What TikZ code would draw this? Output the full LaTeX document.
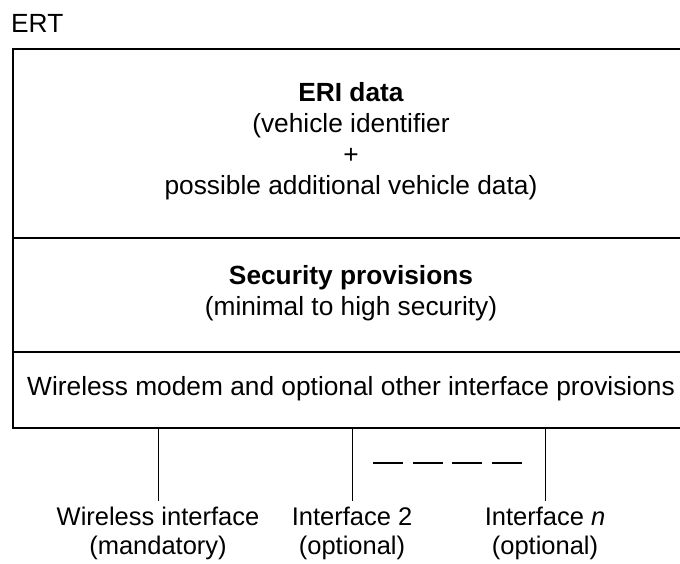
\documentclass[tikz,border=0pt]{standalone}
\usepackage{fontspec}
\setmainfont{Liberation Sans}
\begin{document}
\begin{tikzpicture}[x=1pt,y=-1pt,
  txt/.style={font=\fontsize{26.3}{31}\selectfont, inner sep=0pt, align=center},
  lowtxt/.style={font=\fontsize{25.5}{29}\selectfont, inner sep=0pt, align=center},
  layer/.style={draw, line width=1.6pt, inner sep=0pt, minimum width=678pt, anchor=north west},
  stem/.style={line width=1pt},
  gapline/.style={line width=2.5pt, dash pattern=on 30pt off 9.67pt}]
\useasboundingbox (0,0) rectangle (680,563);

% title
\node[txt, anchor=base west] (ert) at (11,32) {ERT};

% the three stacked layers of the terminal
\node[layer, minimum height=189pt] (eri) at (12,48) {};
\node[layer, minimum height=114pt] (sec) at (12,237) {};
\node[layer, minimum height=76pt] (modem) at (12,351) {};

% texts (base anchor = baseline of the last line)
\node[txt, anchor=base] (eritxt) at (351,194.5)
  {\textbf{ERI data}\\(vehicle identifier\\+\\possible additional vehicle data)};
\node[txt, anchor=base] (sectxt) at (351,315)
  {\textbf{Security provisions}\\(minimal to high security)};
\node[txt, anchor=base] (modemtxt) at (351,395)
  {Wireless modem and optional other interface provisions};

% interface labels
\node[lowtxt, anchor=base] (if1) at (158,554) {Wireless interface\\(mandatory)};
\node[lowtxt, anchor=base] (if2) at (352,554) {Interface 2\\(optional)};
\node[lowtxt, anchor=base] (ifn) at (545,554) {Interface \textit{n}\\(optional)};

% stems from the modem layer down to the interfaces
\foreach \n in {if1,if2,ifn}
  \draw[stem] (modem.south -| \n.north) -- ([yshift=5pt]\n.north);

% further interfaces in between
\coordinate (gapA) at (373,463);
\coordinate (gapB) at (522,463);
\draw[gapline] (gapA) -- (gapB);
\end{tikzpicture}
\end{document}
